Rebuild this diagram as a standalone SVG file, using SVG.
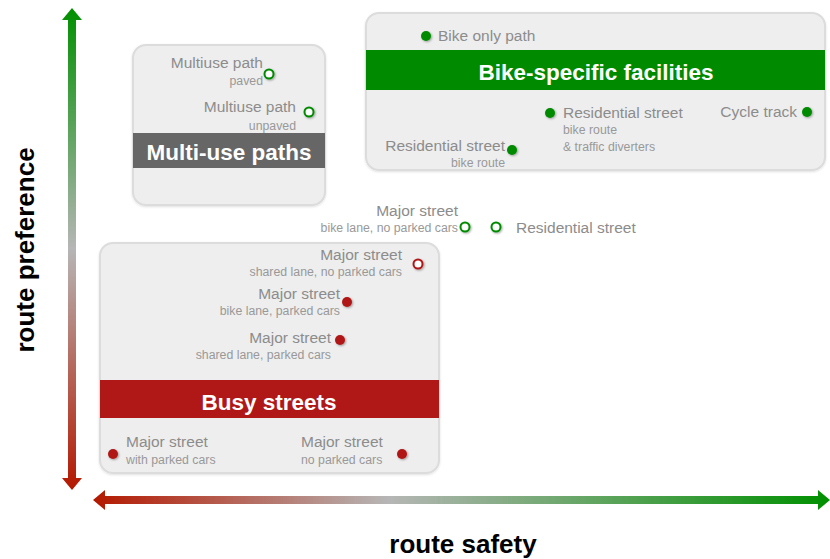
<svg xmlns="http://www.w3.org/2000/svg" width="830" height="559" viewBox="0 0 830 559">
<defs>
<linearGradient id="gv" gradientUnits="userSpaceOnUse" x1="0" y1="8" x2="0" y2="490">
<stop offset="0" stop-color="#009000"/><stop offset="0.5" stop-color="#b6b6b6"/><stop offset="1" stop-color="#b41800"/>
</linearGradient>
<linearGradient id="gh" gradientUnits="userSpaceOnUse" x1="93" y1="0" x2="830" y2="0">
<stop offset="0" stop-color="#b41800"/><stop offset="0.4" stop-color="#b6b6b6"/><stop offset="1" stop-color="#009000"/>
</linearGradient>
<filter id="sh" x="-50%" y="-50%" width="200%" height="200%">
<feDropShadow dx="1" dy="1" stdDeviation="0.8" flood-color="#000" flood-opacity="0.35"/>
</filter>
<filter id="bsh" x="-5%" y="-5%" width="110%" height="110%">
<feDropShadow dx="0" dy="1" stdDeviation="1" flood-color="#000" flood-opacity="0.12"/>
</filter>
</defs>
<style>
.box{fill:#eeeeee;stroke:#dcdcdc;stroke-width:2}
.lab{font-family:"Liberation Sans",Arial,sans-serif;font-size:15.5px;fill:#8c8c8c}
.sub{font-family:"Liberation Sans",Arial,sans-serif;font-size:12.3px;fill:#999999}
.ban{font-family:"Liberation Sans",Arial,sans-serif;font-size:22.5px;font-weight:bold;fill:#ffffff;text-anchor:middle}
.e{text-anchor:end}
.gd{fill:#008a00;filter:url(#sh)}
.go{fill:#ffffff;stroke:#008a00;stroke-width:2;filter:url(#sh)}
.rd{fill:#b01818;filter:url(#sh)}
.ro{fill:#ffffff;stroke:#b01818;stroke-width:2;filter:url(#sh)}
.axis{font-family:"Liberation Sans",Arial,sans-serif;font-size:26px;font-weight:bold;fill:#000000;text-anchor:middle}
</style>

<g id="connectors">
<polygon fill="url(#gv)" points="72,8 82,20 76,20 76,478 82,478 72,490 62,478 68,478 68,20 62,20"/>
<polygon fill="url(#gh)" points="93,500 105,490 105,496 818,496 818,490 830,500 818,510 818,504 105,504 105,510"/>
</g>

<g id="axis-y"><text class="axis" transform="translate(34,250) rotate(-90)">route preference</text></g>
<g id="axis-x"><text class="axis" x="463" y="553">route safety</text></g>

<g id="multi-use">
<rect class="box" filter="url(#bsh)" x="133" y="45" width="192" height="160" rx="13"/>
<rect x="133" y="133" width="192" height="35" fill="#666666"/>
<text class="ban" x="229" y="160">Multi-use paths</text>
<text class="lab e" x="263" y="68">Multiuse path</text>
<text class="sub e" x="263" y="85">paved</text>
<circle class="go" cx="269" cy="74" r="4.5"/>
<text class="lab e" x="296" y="112">Multiuse path</text>
<text class="sub e" x="296" y="130">unpaved</text>
<circle class="go" cx="309" cy="112" r="4.5"/>
</g>

<g id="bike-specific">
<rect class="box" filter="url(#bsh)" x="366" y="13" width="459" height="157" rx="13"/>
<rect x="366" y="50" width="459" height="40" fill="#008a00"/>
<text class="ban" x="596" y="80">Bike-specific facilities</text>
<circle class="gd" cx="426" cy="36" r="5"/>
<text class="lab" x="438" y="41">Bike only path</text>
<circle class="gd" cx="550" cy="113" r="5"/>
<text class="lab" x="563" y="118">Residential street</text>
<text class="sub" x="563" y="134">bike route</text>
<text class="sub" x="563" y="151">&amp; traffic diverters</text>
<text class="lab e" x="797" y="117">Cycle track</text>
<circle class="gd" cx="807" cy="112" r="5"/>
<text class="lab e" x="505" y="151">Residential street</text>
<text class="sub e" x="505" y="167">bike route</text>
<circle class="gd" cx="512" cy="150" r="5"/>
</g>

<g id="middle">
<text class="lab e" x="458" y="216">Major street</text>
<text class="sub e" x="458" y="232">bike lane, no parked cars</text>
<circle class="go" cx="465" cy="227" r="4.5"/>
<circle class="go" cx="496" cy="227" r="4.5"/>
<text class="lab" x="516" y="233">Residential street</text>
</g>

<g id="busy-streets">
<rect class="box" filter="url(#bsh)" x="100" y="243" width="339" height="230" rx="13"/>
<rect x="100" y="380" width="339" height="38" fill="#b01818"/>
<text class="ban" x="269" y="410">Busy streets</text>
<text class="lab e" x="402" y="260">Major street</text>
<text class="sub e" x="402" y="276">shared lane, no parked cars</text>
<circle class="ro" cx="418" cy="264" r="4.5"/>
<text class="lab e" x="340" y="299">Major street</text>
<text class="sub e" x="340" y="315">bike lane, parked cars</text>
<circle class="rd" cx="347" cy="302" r="5"/>
<text class="lab e" x="331" y="343">Major street</text>
<text class="sub e" x="331" y="359">shared lane, parked cars</text>
<circle class="rd" cx="340" cy="340" r="5"/>
<circle class="rd" cx="113" cy="454" r="5"/>
<text class="lab" x="126" y="447">Major street</text>
<text class="sub" x="126" y="464">with parked cars</text>
<text class="lab" x="301" y="447">Major street</text>
<text class="sub" x="301" y="464">no parked cars</text>
<circle class="rd" cx="402" cy="454" r="5"/>
</g>
</svg>
